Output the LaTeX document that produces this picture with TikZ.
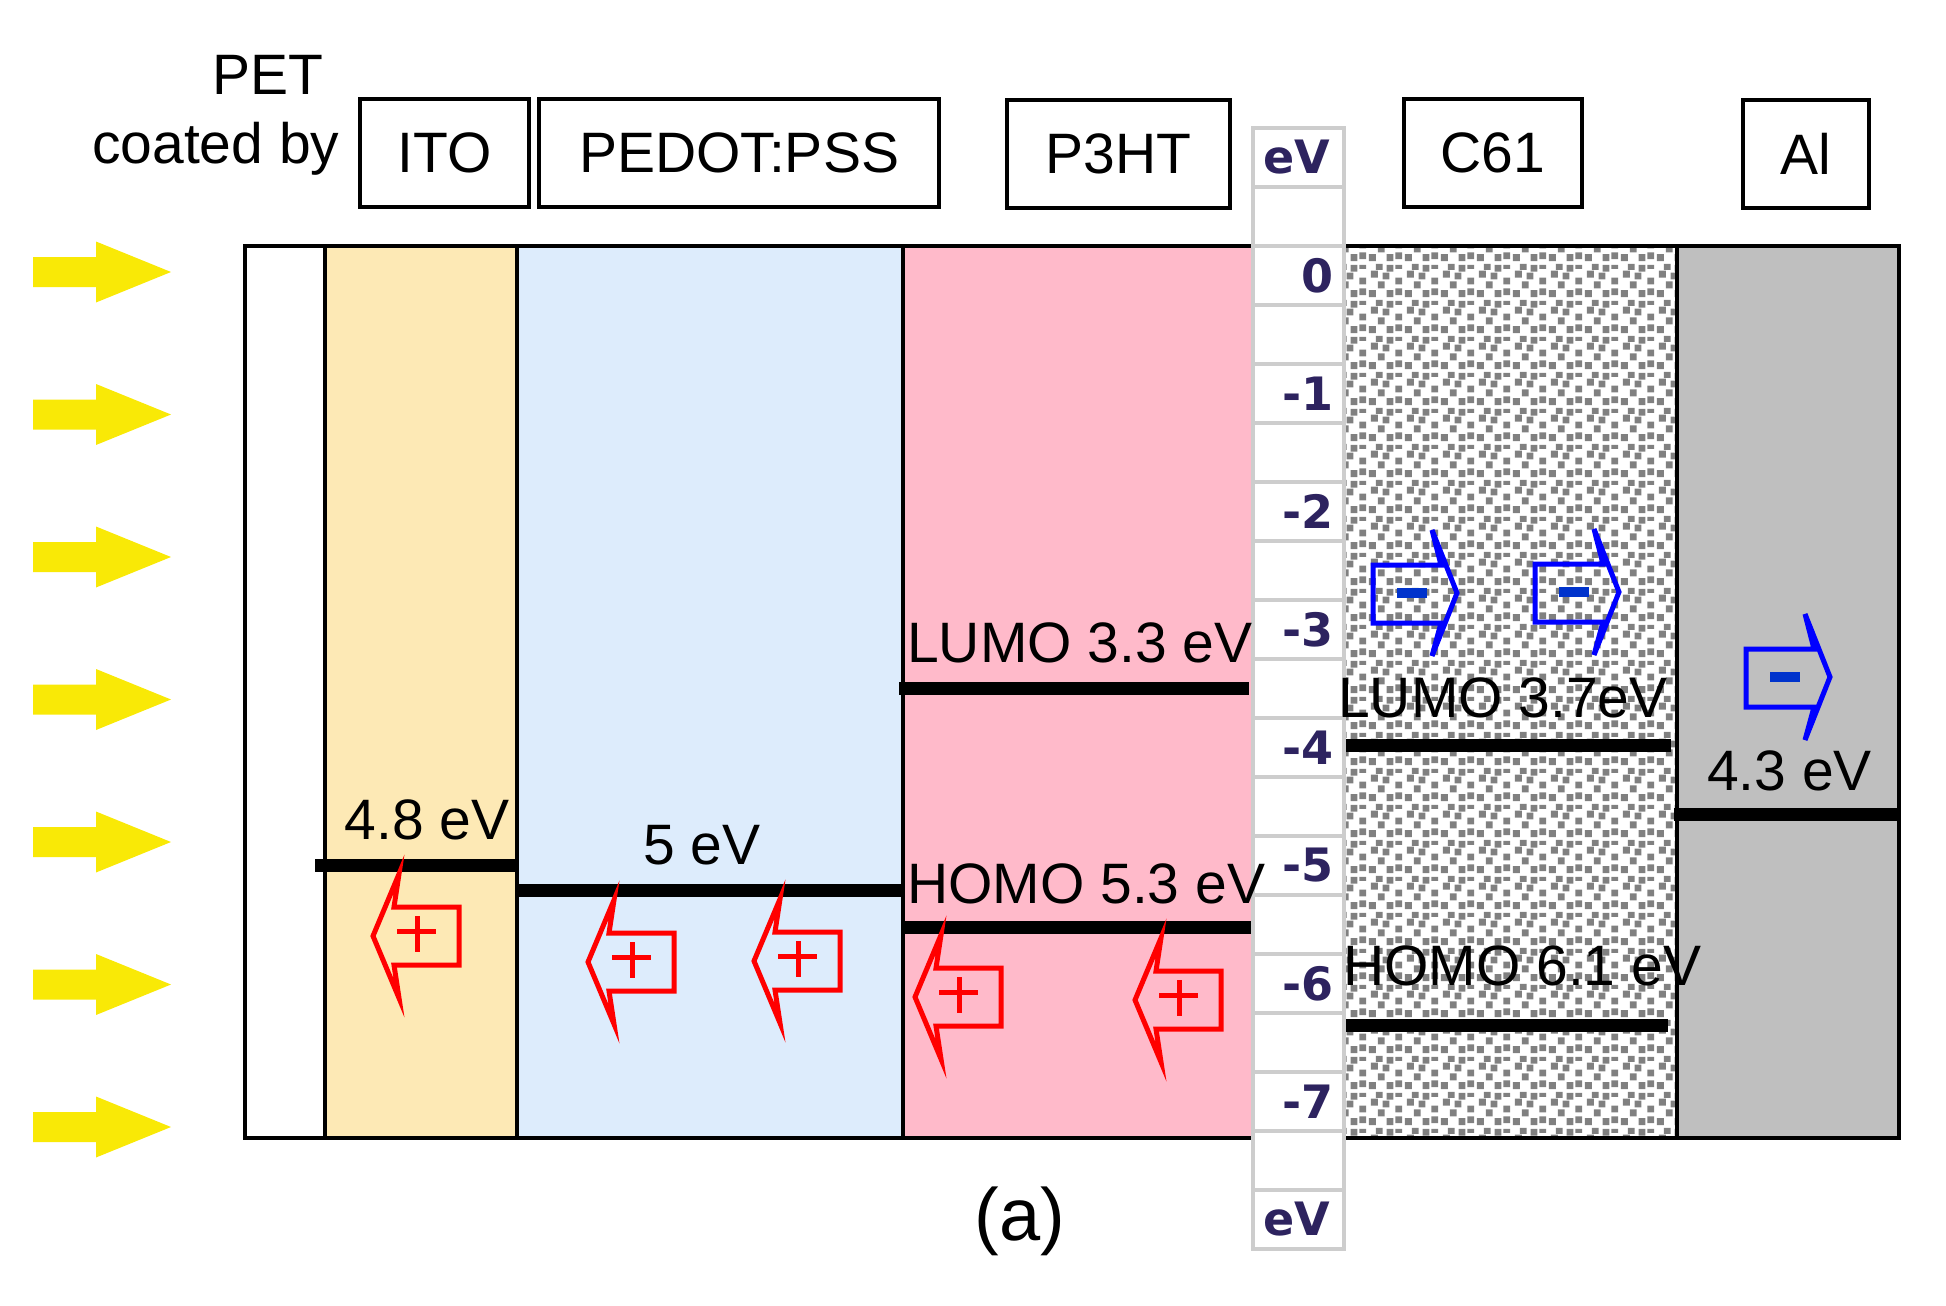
\documentclass[tikz,border=0pt]{standalone}
\usepackage{fontspec}
\setmainfont{Liberation Sans}
\newfontfamily\scalefnt{DejaVu Sans}
\usetikzlibrary{patterns}

\definecolor{itoc}{RGB}{253,233,181}
\definecolor{pedotc}{RGB}{221,236,252}
\definecolor{p3htc}{RGB}{255,186,202}
\definecolor{alc}{RGB}{191,191,191}
\definecolor{sunc}{RGB}{249,233,6}
\definecolor{holec}{RGB}{255,0,0}
\definecolor{elecc}{RGB}{0,0,255}
\definecolor{minusc}{RGB}{0,51,204}
\definecolor{scalec}{RGB}{205,205,205}
\definecolor{scaletxt}{RGB}{45,35,95}
\definecolor{confc}{RGB}{128,128,128}

\pgfdeclarepatternformonly{confetti}{\pgfpointorigin}{\pgfpoint{36pt}{36pt}}{\pgfpoint{36pt}{36pt}}{%
  \pgfpathrectangle{\pgfpoint{1pt}{1pt}}{\pgfpoint{7pt}{7pt}}%
  \pgfpathrectangle{\pgfpoint{19pt}{1pt}}{\pgfpoint{7pt}{7pt}}%
  \pgfpathrectangle{\pgfpoint{10pt}{10pt}}{\pgfpoint{7pt}{7pt}}%
  \pgfpathrectangle{\pgfpoint{28pt}{14pt}}{\pgfpoint{7pt}{7pt}}%
  \pgfpathrectangle{\pgfpoint{3pt}{21pt}}{\pgfpoint{7pt}{7pt}}%
  \pgfpathrectangle{\pgfpoint{19pt}{27pt}}{\pgfpoint{7pt}{7pt}}%
  \pgfpathrectangle{\pgfpoint{28pt}{30pt}}{\pgfpoint{7pt}{4pt}}%
  \pgfpathrectangle{\pgfpoint{15pt}{19pt}}{\pgfpoint{7pt}{7pt}}%
  \pgfpathrectangle{\pgfpoint{28pt}{3pt}}{\pgfpoint{7pt}{7pt}}%
  \pgfpathrectangle{\pgfpoint{8pt}{29pt}}{\pgfpoint{7pt}{6pt}}%
  \pgfusepath{fill}}

\tikzset{
  lbl/.style={font=\fontsize{57}{60}\selectfont, inner sep=0pt},
  lbox/.style={draw, line width=4pt, inner sep=0pt, font=\fontsize{57}{60}\selectfont},
  level/.style={line width=13pt},
  sep/.style={line width=4pt},
  hole/.style={draw=holec, line width=5pt, line join=miter},
  elec/.style={draw=elecc, line width=5pt, line join=miter},
  sctext/.style={font=\scalefnt\bfseries\fontsize{46}{48}\selectfont, text=scaletxt, inner sep=0pt},
  cell/.style={draw=scalec, fill=white, line width=3.5pt},
  holearr/.pic={
    \draw[hole] (0,0) -- (26,-62) -- (21,-29) -- (86,-29) -- (86,29) -- (21,29) -- (26,62) -- cycle;
    \draw[holec, line width=5pt] (24,-5) -- (63,-5) (44,-20) -- (44,16);
  },
  elecarr/.pic={
    \draw[elec] (0,0) -- (-25,-63) -- (-16,-28) -- (-84,-28) -- (-84,30) -- (-16,30) -- (-25,63) -- cycle;
    \draw[minusc, line width=10pt] (-60,0) -- (-30,0);
  },
  sunpic/.pic={
    \fill[sunc] (33,-15) -- (96,-15) -- (96,-30.5) -- (171,0) -- (96,30.5) -- (96,15) -- (33,15) -- cycle;
  }
}

\begin{document}
\begin{tikzpicture}[x=1pt,y=-1pt]
\useasboundingbox (0,0) rectangle (1946,1306);

% sunlight arrows
\foreach \i in {0,...,6} {
  \pic at (0,{272+142.5*\i}) {sunpic};
}

% layers
\fill[white] (244.5,246) rectangle (324.5,1138);
\fill[itoc] (324.5,246) rectangle (517,1138);
\fill[pedotc] (517,246) rectangle (903,1138);
\fill[p3htc] (903,246) rectangle (1253,1138);
\fill[white] (1344,246) rectangle (1677,1138);
\fill[pattern=confetti, pattern color=confc] (1344,246) rectangle (1677,1138);
\fill[alc] (1677,246) rectangle (1899,1138);

\draw[sep] (324.5,246) -- (324.5,1138);
\draw[sep] (517,246) -- (517,1138);
\draw[sep] (903,246) -- (903,1138);
\draw[sep] (1677,246) -- (1677,1138);
\draw[sep] (244.5,246) rectangle (1899,1138);

% energy levels
\draw[level] (315,865) -- (517,865);
\draw[level] (517,890) -- (903,890);
\draw[level] (899,688) -- (1249,688);
\draw[level] (902,927) -- (1252,927);
\draw[level] (1346,745) -- (1671,745);
\draw[level] (1346,1025) -- (1668,1025);
\draw[level] (1674,814) -- (1900,814);

% energy scale
\foreach \k in {0,...,18} {
  \pgfmathsetmacro\ya{128+\k*59}
  \pgfmathsetmacro\yb{128+(\k+1)*59}
  \draw[cell] (1253,\ya) rectangle (1344,\yb);
}
\node[sctext] (evtop) at (1297,157.5) {eV};
\node[sctext] (evbot) at (1297,1219.5) {eV};
\foreach \v [count=\i from 0] in {0,-1,-2,-3,-4,-5,-6,-7} {
  \node[sctext, anchor=east] (sc\i) at (1334,{275.5+118*\i}) {\v};
}

% header labels
\node[lbl, anchor=base west] (pet) at (212,95) {PET};
\node[lbl, anchor=base west] (coated) at (92,163) {coated by};
\node[lbox, minimum width=169pt, minimum height=108pt] (ito) at (444.5,152.5) {ITO};
\node[lbox, minimum width=400pt, minimum height=108pt] (pedot) at (739,152.5) {PEDOT:PSS};
\node[lbox, minimum width=223pt, minimum height=108pt] (p3ht) at (1118.5,154) {P3HT};
\node[lbox, minimum width=178pt, minimum height=108pt] (c61) at (1493,152.5) {C61};
\node[lbox, minimum width=126pt, minimum height=108pt] (al) at (1806,154) {Al};

% level labels
\node[lbl, anchor=base] (l48) at (427,839) {4.8 eV};
\node[lbl, anchor=base] (l5) at (702,864) {5 eV};
\node[lbl, anchor=base west] (lumo1) at (907,662) {LUMO 3.3 eV};
\node[lbl, anchor=base west] (homo1) at (907,903) {HOMO 5.3 eV};
\node[lbl, anchor=base west] (lumo2) at (1338,717) {LUMO 3.7eV};
\node[lbl, anchor=base west] (homo2) at (1343,985) {HOMO 6.1 eV};
\node[lbl, anchor=base west] (l43) at (1707,790) {4.3 eV};
\node[font=\fontsize{74}{78}\selectfont, inner sep=0pt, anchor=base] (cap) at (1020,1240) {(a)};

% holes
\pic at (373,936) {holearr};
\pic at (588,962) {holearr};
\pic at (754,961) {holearr};
\pic at (915,997) {holearr};
\pic at (1135,1000) {holearr};

% electrons
\pic at (1457,593) {elecarr};
\pic at (1619,592) {elecarr};
\pic at (1830,677) {elecarr};
\end{tikzpicture}
\end{document}
